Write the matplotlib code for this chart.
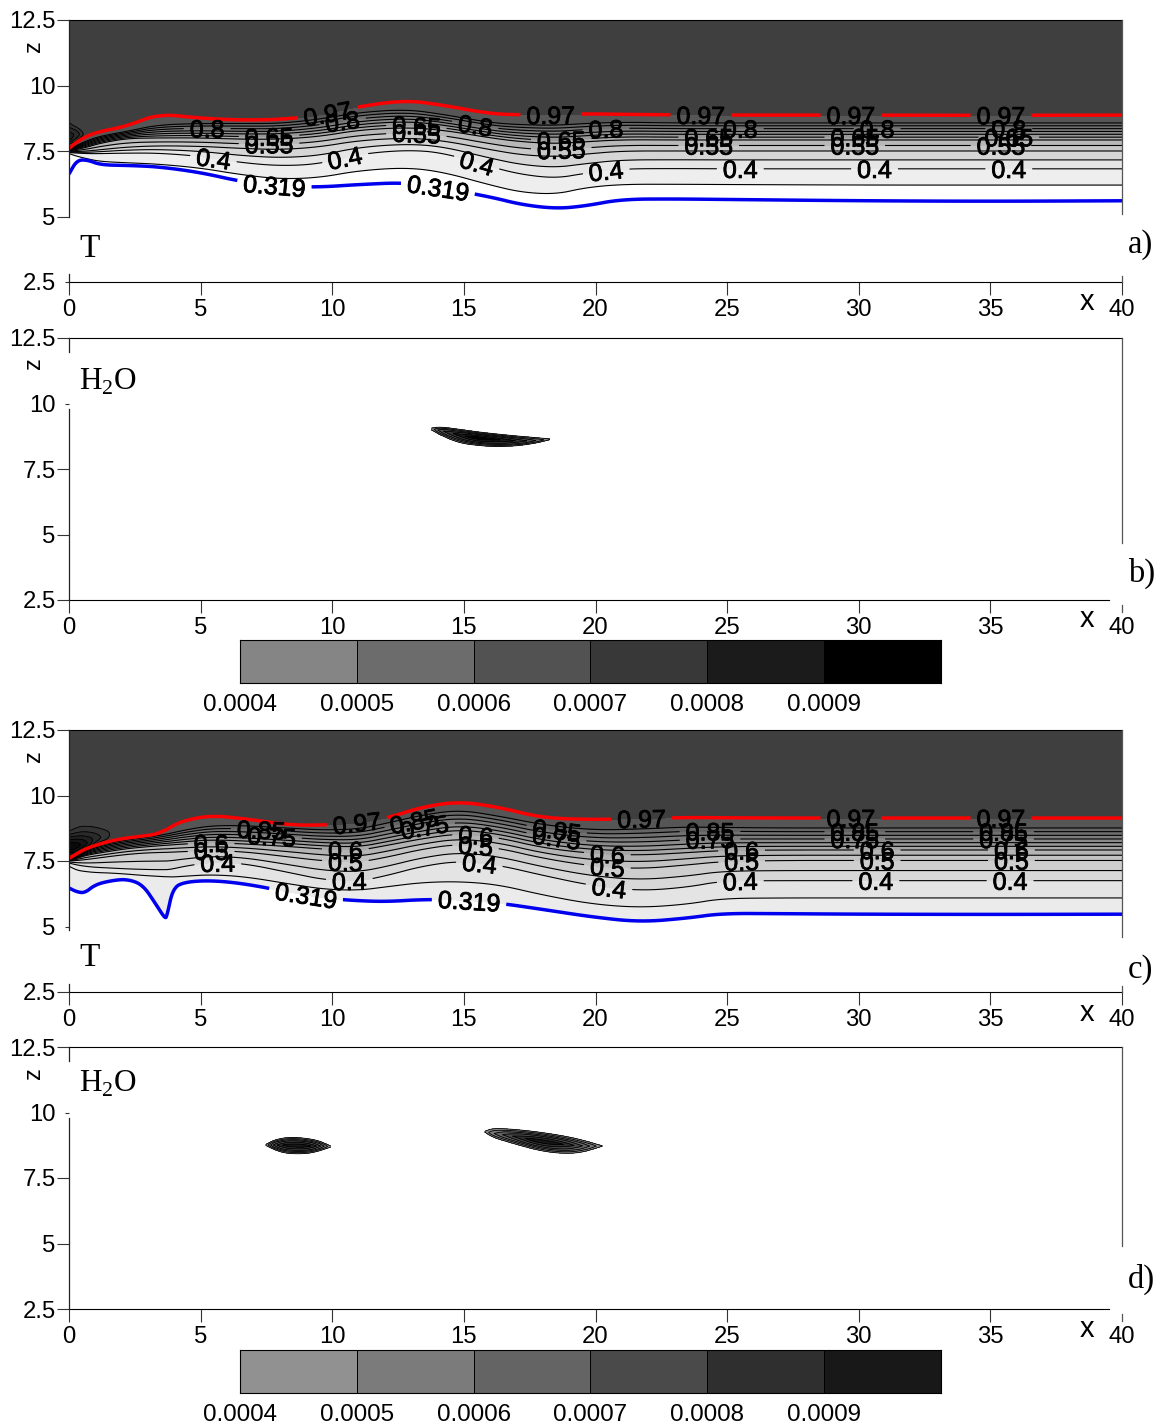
import numpy as np
import matplotlib
matplotlib.use('Agg')
import matplotlib.pyplot as plt
import matplotlib.patheffects as pe
from matplotlib.colors import ListedColormap

plt.rcParams['font.family'] = ['Liberation Sans', 'DejaVu Sans']
plt.rcParams['mathtext.fontset'] = 'custom'
plt.rcParams['mathtext.rm'] = 'Liberation Serif'

W, H = 1159, 1425

# temperature isolines, z at each x knot
t_rows = [0.319, 0.35, 0.4, 0.5, 0.6, 0.9, 0.97]

a_x = [0, .3, .7, 1.2, 2.2, 3.4, 5, 6.5, 8, 9.5, 11, 12.8, 14.2, 16, 17.2, 18.5, 19.6, 21, 23, 25, 30, 35, 40]
a_319 = [6.62, 7.15, 7.16, 6.97, 6.95, 6.9, 6.68, 6.34, 6.15, 6.12, 6.22, 6.3, 6.08, 5.75, 5.45, 5.3, 5.4, 5.66, 5.67, 5.65, 5.6, 5.58, 5.6]
a_035 = [7.4, 7.3, 7.2, 7.1, 7.05, 7.0, 6.85, 6.6, 6.43, 6.48, 6.75, 6.87, 6.7, 6.2, 5.92, 5.85, 6.1, 6.23, 6.23, 6.22, 6.2, 6.2, 6.2]
a_040 = [7.44, 7.42, 7.4, 7.4, 7.42, 7.42, 7.3, 7.06, 6.93, 7.0, 7.38, 7.54, 7.44, 6.9, 6.6, 6.46, 6.65, 6.82, 6.83, 6.82, 6.82, 6.82, 6.82]
a_050 = [7.47, 7.48, 7.5, 7.55, 7.65, 7.7, 7.68, 7.6, 7.55, 7.65, 7.9, 8.0, 7.9, 7.55, 7.35, 7.28, 7.38, 7.5, 7.5, 7.5, 7.5, 7.5, 7.5]
a_060 = [7.5, 7.56, 7.65, 7.8, 7.98, 8.0, 8.0, 7.95, 7.95, 8.05, 8.3, 8.4, 8.3, 8.0, 7.85, 7.78, 7.85, 7.93, 7.92, 7.92, 7.92, 7.92, 7.92]
a_090 = [7.55, 7.72, 7.9, 8.07, 8.25, 8.5, 8.55, 8.55, 8.55, 8.71, 8.97, 9.09, 8.9, 8.58, 8.5, 8.48, 8.55, 8.6, 8.57, 8.57, 8.57, 8.57, 8.57]
a_097 = [7.6, 7.85, 8.08, 8.25, 8.45, 8.92, 8.75, 8.68, 8.7, 8.85, 9.2, 9.44, 9.25, 8.92, 8.88, 8.88, 8.92, 8.9, 8.88, 8.87, 8.87, 8.86, 8.87]

c_x = [0, .3, .6, 1, 1.6, 2.2, 2.8, 3.3, 3.65, 3.72, 3.95, 4.4, 5.4, 6.7, 8.4, 9.7, 11, 12.1, 13.4, 14.8, 16.3, 18, 19.9, 21.7, 23.5, 24.8, 27, 30, 35, 40]
c_319 = [6.47, 6.32, 6.28, 6.6, 6.75, 6.81, 6.6, 5.85, 5.3, 5.4, 6.47, 6.7, 6.76, 6.63, 6.3, 6.08, 5.98, 5.95, 6.03, 6.02, 5.9, 5.65, 5.36, 5.17, 5.32, 5.5, 5.49, 5.47, 5.46, 5.47]
c_035 = [7.3, 7.15, 7.1, 7.06, 7.04, 7.0, 6.95, 6.92, 6.9, 6.9, 6.89, 6.92, 6.98, 6.9, 6.62, 6.42, 6.38, 6.52, 6.68, 6.72, 6.6, 6.2, 5.85, 5.72, 5.85, 6.07, 6.09, 6.09, 6.09, 6.09]
c_040 = [7.42, 7.35, 7.3, 7.26, 7.23, 7.2, 7.18, 7.17, 7.17, 7.17, 7.2, 7.3, 7.46, 7.4, 7.05, 6.78, 6.72, 6.95, 7.3, 7.5, 7.35, 6.95, 6.55, 6.36, 6.5, 6.74, 6.75, 6.75, 6.75, 6.75]
c_050 = [7.5, 7.52, 7.55, 7.6, 7.68, 7.75, 7.8, 7.82, 7.83, 7.83, 7.84, 7.86, 7.9, 7.85, 7.65, 7.5, 7.45, 7.65, 7.95, 8.15, 8.0, 7.6, 7.3, 7.2, 7.35, 7.48, 7.52, 7.52, 7.52, 7.52]
c_060 = [7.52, 7.6, 7.7, 7.78, 7.88, 7.97, 8.03, 8.07, 8.1, 8.1, 8.12, 8.15, 8.2, 8.15, 8.05, 7.95, 7.9, 8.1, 8.35, 8.55, 8.4, 8.0, 7.78, 7.72, 7.82, 7.9, 7.92, 7.92, 7.92, 7.92]
c_090 = [7.58, 7.72, 7.9, 8.05, 8.2, 8.3, 8.38, 8.45, 8.52, 8.53, 8.58, 8.68, 8.85, 8.85, 8.75, 8.68, 8.72, 8.95, 9.25, 9.45, 9.22, 8.88, 8.68, 8.72, 8.8, 8.78, 8.76, 8.76, 8.76, 8.76]
c_097 = [7.6, 7.78, 7.95, 8.1, 8.27, 8.38, 8.45, 8.52, 8.68, 8.7, 8.85, 9.05, 9.24, 9.11, 8.87, 8.87, 8.95, 9.14, 9.56, 9.77, 9.56, 9.14, 9.08, 9.12, 9.16, 9.15, 9.14, 9.14, 9.14, 9.14]

t_levels_a = [.35, .4, .45, .5, .55, .6, .65, .7, .75, .8, .85, .9, .97, 1.0]
t_colors_a = ['#eeeeee', '#e6e6e6', '#d6d6d6', '#c8c8c8', '#b8b8b8', '#a8a8a8', '#989898', '#8a8a8a', '#7c7c7c', '#707070', '#646464', '#565656', '#3f3f3f']
t_levels_c = [.319] + t_levels_a
t_colors_c = ['#ebebeb', '#e4e4e4', '#d8d8d8', '#cecece', '#c2c2c2', '#b4b4b4', '#a6a6a6', '#989898', '#8a8a8a', '#7c7c7c', '#707070', '#646464', '#565656', '#3f3f3f']
t_lines = [.35, .4, .45, .5, .55, .6, .65, .7, .75, .8, .85, .9]

# dark patch at the inlet, small field tables
blob_levels = [1.0, 1.03, 1.06, 1.09, 1.12, 1.2]
blob_colors = ['#343434', '#2a2a2a', '#202020', '#141414', '#0a0a0a']
ba_x = [0, .3, .6, .9]
ba_z = [7.6, 7.9, 8.1, 8.3, 8.6]
ba_t = [[.9, .9, .9, .9], [1.08, 1.0, .9, .9], [1.08, 1.06, 1.0, .9], [1.05, 1.03, .97, .9], [1.0, .95, .9, .9]]
bc_x = [0, .4, .8, 1.2, 1.7, 2.1]
bc_z = [7.6, 7.9, 8.1, 8.3, 8.6, 8.9]
bc_t = [[.9, .9, .9, .9, .9, .9], [1.13, 1.1, .9, .9, .9, .9], [1.14, 1.14, 1.08, .9, .9, .9],
        [1.1, 1.1, 1.08, 1.04, .97, .9], [1.0, 1.03, 1.03, 1.02, 1.0, .9], [.97, .99, .99, .98, .95, .9]]

# contour label positions (x, z)
labels_a = {0.97: [(9.85, 8.85), (18.3, 8.9), (24, 8.88), (29.7, 8.87), (35.4, 8.87)],
            0.319: [(7.8, 6.2), (14, 6.0)],
            0.4: [(5.5, 7.3), (10.5, 7.2), (15.5, 7.1), (20.4, 6.8), (25.5, 6.82), (30.6, 6.82), (35.7, 6.82)],
            0.8: [(5.25, 8.35), (10.4, 8.6), (15.4, 8.3), (20.4, 8.3), (25.5, 8.35), (30.7, 8.35), (35.7, 8.35)],
            0.65: [(7.6, 8.05), (13.2, 8.5), (18.7, 7.9), (24.3, 8.03), (29.85, 8.03), (35.7, 8.03)],
            0.55: [(7.6, 7.75), (13.2, 8.2), (18.7, 7.55), (24.3, 7.72), (29.85, 7.72), (35.4, 7.72)]}
labels_c = {0.97: [(10.95, 8.9), (21.75, 9.1), (29.7, 9.14), (35.4, 9.14)],
            0.319: [(9, 6.2), (15.2, 6.0)],
            0.4: [(5.65, 7.46), (10.65, 6.75), (15.6, 7.5), (20.5, 6.4), (25.5, 6.75), (30.65, 6.75), (35.75, 6.75)],
            0.5: [(5.4, 7.9), (10.5, 7.5), (15.45, 8.15), (20.45, 7.27), (25.55, 7.52), (30.7, 7.52), (35.8, 7.52)],
            0.6: [(5.4, 8.2), (10.5, 7.95), (15.45, 8.53), (20.45, 7.77), (25.55, 7.92), (30.7, 7.92), (35.8, 7.92)],
            0.75: [(7.7, 8.5), (13.5, 8.9), (18.5, 8.3), (24.35, 8.35), (29.85, 8.35), (35.5, 8.35)],
            0.85: [(7.3, 8.7), (13.1, 9.1), (18.5, 8.5), (24.35, 8.6), (29.85, 8.6), (35.5, 8.6)]}

# water vapour patches: x, upper edge, lower edge, ridge z, ridge value
h2o_b = [([13.76, 14.1, 14.8, 15.5, 16.2, 17, 17.7, 18.27],
          [9.06, 9.11, 9.02, 8.92, 8.84, 8.76, 8.7, 8.65],
          [9.0, 8.8, 8.5, 8.4, 8.35, 8.38, 8.48, 8.62],
          [9.03, 8.98, 8.8, 8.68, 8.62, 8.57, 8.58, 8.635],
          [.00041, .00068, .00085, .00099, .00093, .0008, .00062, .00041])]
h2o_d = [([7.48, 7.8, 8.2, 8.65, 9.1, 9.5, 9.94],
          [8.78, 8.95, 9.04, 9.05, 9.0, 8.92, 8.72],
          [8.74, 8.58, 8.45, 8.42, 8.44, 8.53, 8.68],
          [8.76, 8.76, 8.75, 8.74, 8.72, 8.72, 8.7],
          [.00041, .00075, .00095, .00099, .00095, .00075, .00041]),
         ([15.8, 16.1, 16.9, 17.8, 18.6, 19.4, 20.25],
          [9.28, 9.4, 9.36, 9.26, 9.14, 8.98, 8.73],
          [9.25, 9.05, 8.81, 8.56, 8.44, 8.45, 8.71],
          [9.27, 9.2, 9.1, 8.92, 8.8, 8.72, 8.72],
          [.00041, .0006, .00082, .00099, .00095, .00075, .00041])]

q_levels = [.0004, .0005, .0006, .0007, .0008, .0009, .001]
q_ticks = ['0.0004', '0.0005', '0.0006', '0.0007', '0.0008', '0.0009']
q_colors_b = ['#858585', '#6c6c6c', '#525252', '#383838', '#1b1b1b', '#000000']
q_colors_d = ['#919191', '#7b7b7b', '#646464', '#4a4a4a', '#2f2f2f', '#181818']

x_ticks = [0, 5, 10, 15, 20, 25, 30, 35, 40]
z_ticks = [2.5, 5, 7.5, 10, 12.5]

fig = plt.figure(figsize=(W / 100, H / 100), dpi=100)


def px_axes(x0, y0, x1, y1):
    return fig.add_axes([x0 / W, 1 - y1 / H, (x1 - x0) / W, (y1 - y0) / H])


def px_text(x, y, s, **kw):
    fig.text(x / W, 1 - y / H, s, va='center', **kw)


# corner cutting so the drawn isolines are not polygons
def round_corners(a, axis=-1, n=3):
    a = np.moveaxis(np.asarray(a, dtype=float), axis, -1)
    for _ in range(n):
        q = .75 * a[..., :-1] + .25 * a[..., 1:]
        r = .25 * a[..., :-1] + .75 * a[..., 1:]
        mid = np.stack([q, r], axis=-1).reshape(a.shape[:-1] + (-1,))
        a = np.concatenate([a[..., :1], mid, a[..., -1:]], axis=-1)
    return np.moveaxis(a, -1, axis)


def panel(y0, left, right, x_end, stub40, short_tick):
    ax = px_axes(69, y0, 1122, y0 + 262)
    ax.set_xlim(0, 40)
    ax.set_ylim(2.5, 12.5)
    ax.set_xticks(x_ticks)
    ax.set_xticklabels(['%g' % v for v in x_ticks])
    ax.set_yticks(z_ticks)
    ax.set_yticklabels(['%g' % v for v in z_ticks])
    ax.tick_params(axis='x', length=9.5, width=0.8, pad=3, labelsize=17.2, color='#333333')
    ax.tick_params(axis='y', length=9, width=0.8, pad=0.5, labelsize=17.2, color='#333333')
    ax.spines['left'].set_visible(False)
    ax.spines['right'].set_visible(False)
    ax.spines['bottom'].set_bounds(0, x_end)
    ax.yaxis.get_major_ticks()[short_tick].tick1line.set_markersize(3)
    for s in left:
        ax.plot([0, 0], s, color='#222222', lw=0.9, clip_on=False, zorder=6)
    for s in right:
        ax.plot([40, 40], s, color='#555555', lw=0.9, clip_on=False, zorder=6)
    if stub40:
        ax.xaxis.get_major_ticks()[-1].tick1line.set_visible(False)
        ax.plot([40, 40], [2.31, 2.05], color='#555555', lw=0.9, clip_on=False)
    return ax


def temperature(ax, x, rows, levels, colors, labels, blob):
    n = len(x)
    z = round_corners([[2.5] * n] + rows + [[12.5] * n])
    t = np.array([[0.2] * z.shape[1]] + [[v] * z.shape[1] for v in t_rows] + [[0.985] * z.shape[1]])
    xx = np.tile(round_corners(x), (z.shape[0], 1))
    ax.contourf(xx, z, t, levels=levels, colors=colors, zorder=1)
    bx, bz, bt = blob
    bx = round_corners(bx)
    bz = round_corners(bz)
    bt = round_corners(round_corners(bt, axis=1), axis=0)
    ax.contourf(bx, bz, bt, levels=blob_levels, colors=blob_colors, zorder=2)
    ax.contour(bx, bz, bt, levels=blob_levels[:-1], colors='k', linewidths=0.6, zorder=2)
    styles = [(lev, 'k', 0.8, 3) for lev in t_lines] + [(0.97, '#fa0000', 2.5, 4), (0.319, '#0000ee', 2.5, 4)]
    for lev, col, lw, zo in styles:
        cs = ax.contour(xx, z, t, levels=[lev], colors=col, linewidths=lw, zorder=zo)
        if lev in labels:
            texts = cs.clabel(manual=labels[lev], inline=True, inline_spacing=6, fontsize=18, fmt='%g', colors='k')
            for tx in texts:
                tx.set_zorder(5)
                tx.set_y(tx.get_position()[1] - 0.08)
                tx.set_path_effects([pe.withStroke(linewidth=0.6, foreground='k')])


def vapour(ax, patches, colors):
    for x, top, bot, mid, q in patches:
        n = len(x)
        top, bot, mid, q = [np.array(v) for v in (top, bot, mid, q)]
        z = np.array([bot - .01, bot, (bot + mid) / 2, mid, (top + mid) / 2, top, top + .01])
        shoulder = .0004 + .62 * (q - .0004)
        v = np.array([[.0003] * n, [.0004] * n, shoulder, q, shoulder, [.0004] * n, [.0003] * n])
        z = round_corners(z)
        v = round_corners(v)
        xx = np.tile(round_corners(x), (7, 1))
        ax.contourf(xx, z, v, levels=q_levels, colors=colors)
        ax.contour(xx, z, v, levels=q_levels[:-1], colors='k', linewidths=0.6)


def bar(y0, colors):
    ax = px_axes(240, y0, 941, y0 + 43)
    ax.pcolormesh(q_levels, [0, 1], [q_levels[:-1]], cmap=ListedColormap(colors), edgecolors='k', linewidth=0.6)
    ax.set_yticks([])
    ax.set_xticks(q_levels[:-1])
    ax.set_xticklabels(q_ticks)
    ax.tick_params(axis='x', length=0, pad=8, labelsize=17.4)
    for s in ax.spines.values():
        s.set_linewidth(0.8)


ax_a = panel(20, [[5, 12.5], [2.5, 2.8]], [[5.08, 12.5], [2.5, 2.73]], 40, False, 0)
temperature(ax_a, a_x, [a_319, a_035, a_040, a_050, a_060, a_090, a_097], t_levels_a, t_colors_a, labels_a, (ba_x, ba_z, ba_t))

ax_b = panel(338, [[11.97, 12.5], [2.5, 9.8]], [[4.68, 12.5]], 39.5, True, 3)
vapour(ax_b, h2o_b, q_colors_b)

ax_c = panel(730, [[4.85, 12.5], [2.5, 2.8]], [[4.6, 12.5], [2.5, 2.73]], 40, False, 1)
temperature(ax_c, c_x, [c_319, c_035, c_040, c_050, c_060, c_090, c_097], t_levels_c, t_colors_c, labels_c, (bc_x, bc_z, bc_t))

ax_d = panel(1047, [[11.97, 12.5], [2.5, 9.8]], [[4.9, 12.5]], 39.5, True, 3)
vapour(ax_d, h2o_d, q_colors_d)

bar(640, q_colors_b)
bar(1350, q_colors_d)

for y, s in [(249, 'T'), (958, 'T')]:
    px_text(79, y, s, family='Liberation Serif', fontsize=24, ha='left')
for y, s in [(382, r'H$_{\mathrm{2}}$O'), (1084, r'H$_{\mathrm{2}}$O')]:
    px_text(79, y, s, family='Liberation Serif', fontsize=22.5, ha='left')
for y, s in [(245, 'a)'), (573, 'b)'), (970, 'c)'), (1279, 'd)')]:
    px_text(1128, y, s, family='Liberation Serif', fontsize=23.5, ha='left')
for y in [302, 619, 1013, 1329]:
    px_text(1087, y, 'x', fontsize=21, ha='center')
for y in [46, 363, 756, 1073]:
    px_text(34, y, 'z', fontsize=17, ha='center', rotation=90)

fig.savefig('out.png', dpi=100)
